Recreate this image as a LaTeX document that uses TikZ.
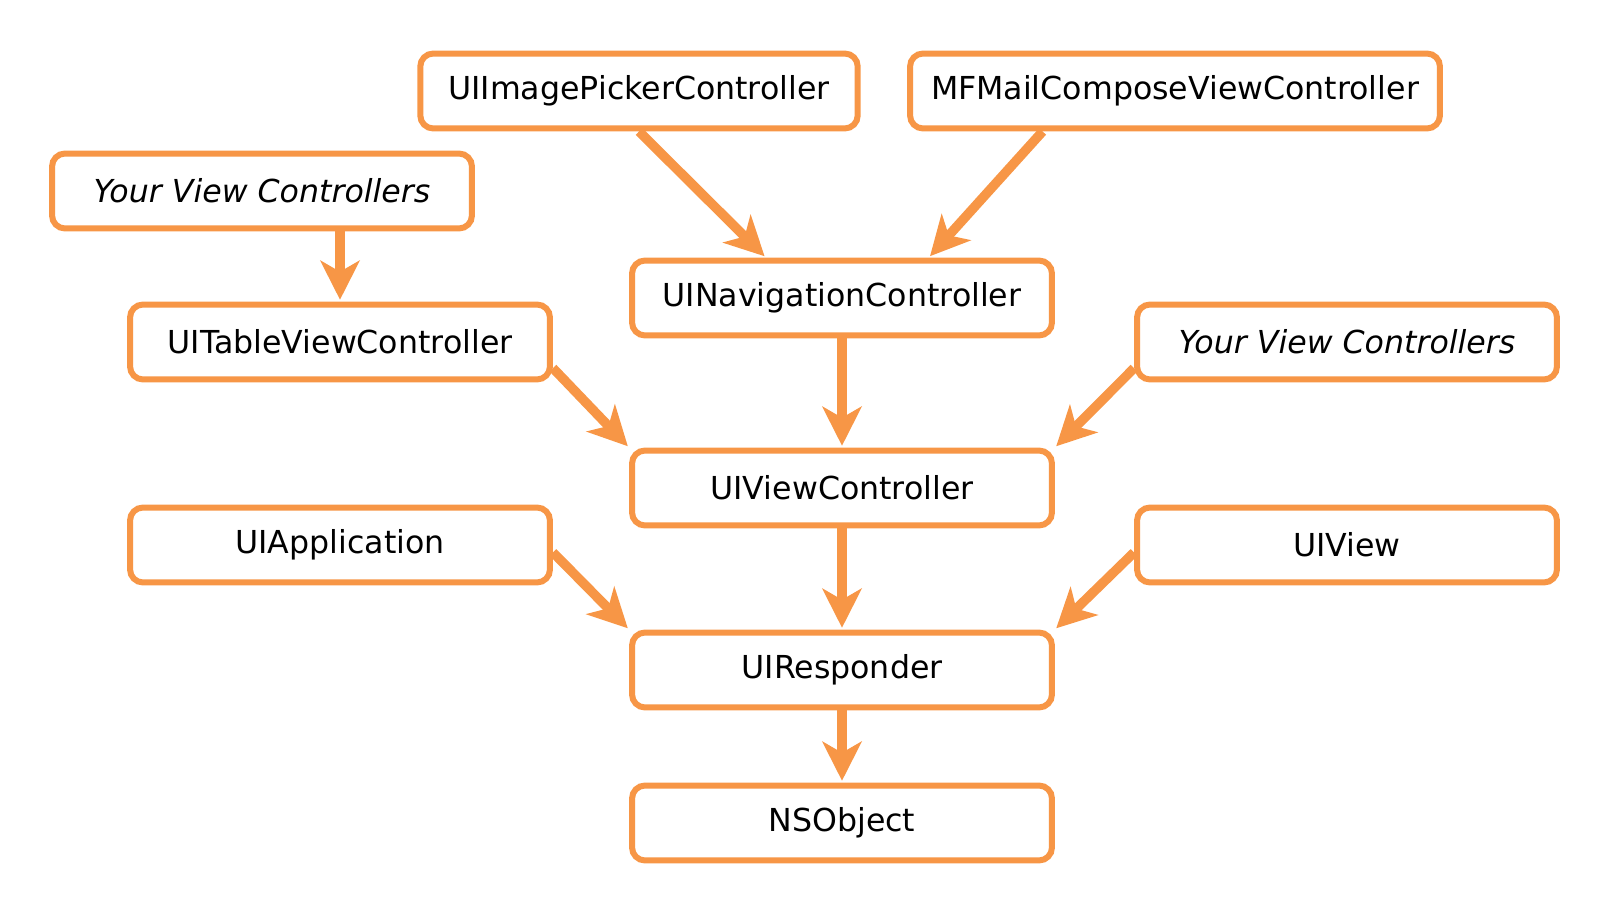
\documentclass[tikz,border=0pt]{standalone}
\usepackage{fontspec}
\setmainfont{DejaVu Sans}
\usetikzlibrary{arrows.meta}
\definecolor{classborder}{HTML}{F79646}
\definecolor{inherit}{HTML}{F79646}
\tikzset{
  card/.style={rectangle, rounded corners=0.26cm, align=center, draw=classborder,
               fill=white, line width=0.12cm, minimum width=8.4cm, minimum height=1.5cm,
               inner sep=0pt, font=\fontsize{18}{22}\selectfont},
  owncard/.style={card, font=\fontsize{18}{22}\selectfont\itshape},
  flow/.style={-{Stealth[length=0.78cm, width=0.78cm, inset=0.22cm]}, line width=0.19cm,
               draw=inherit, shorten >=1pt}
}

\begin{document}
\begin{tikzpicture}[x=0.02cm, y=-0.02cm]
\useasboundingbox (0,0) rectangle (1610,915);

%% Top row
\node[card, minimum width=8.75cm] (picker) at (639, 91) {UIImagePickerController};
\node[card, minimum width=10.6cm] (mail)   at (1175, 91) {MFMailComposeViewController};
\node[owncard] (yourleft) at (262, 191) {Your View Controllers};

%% Controllers
\node[card] (nav)       at (842, 298) {UINavigationController};
\node[card] (table)     at (340, 342) {UITableViewController};
\node[owncard] (yourright) at (1347, 342) {Your View Controllers};
\node[card] (vc)        at (842, 488) {UIViewController};

%% Responders
\node[card] (app)   at (340, 545)  {UIApplication};
\node[card] (view)  at (1347, 545) {UIView};
\node[card] (resp)  at (842, 670)  {UIResponder};
\node[card] (nsobj) at (842, 823)  {NSObject};

%% Inheritance
\draw[flow] (picker.south) -- (nav.152);
\draw[flow] (mail.197.6) -- (nav.25.5);
\draw[flow] (table.north |- yourleft.south) -- (table.north);
\draw[flow] (nav.south) -- (vc.north);
\draw[flow] (table.-7) -- (vc.north west);
\draw[flow] (yourright.187) -- (vc.north east);
\draw[flow] (vc.south) -- (resp.north);
\draw[flow] (app.-2) -- (resp.north west);
\draw[flow] (view.182) -- (resp.north east);
\draw[flow] (resp.south) -- (nsobj.north);

\end{tikzpicture}
\end{document}
